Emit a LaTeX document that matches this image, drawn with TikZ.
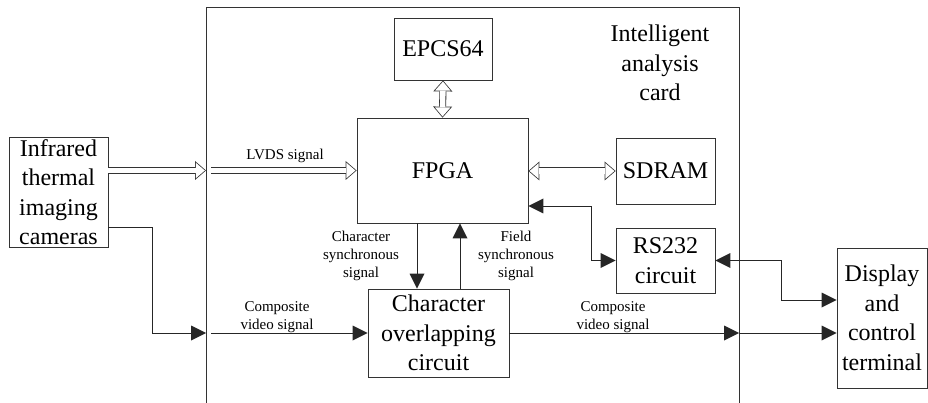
\documentclass[tikz,border=0pt]{standalone}
\usepackage{fontspec}
\setmainfont{Liberation Serif}
\usetikzlibrary{arrows.meta,calc}
\def\bigtext{\fontsize{24}{29.5}\selectfont}
\def\smalltext{\fontsize{15}{18}\selectfont}
\def\blocknode{\node[block]}
\def\drawsig{\draw[sig]}
\def\drawbus{\draw[bus]}

\begin{document}
\begin{tikzpicture}[x=1pt,y=-1pt,
  block/.style={draw=black!80,line width=0.8pt,fill=white,align=center,font=\bigtext,inner sep=0pt},
  lbl/.style={align=center,font=\smalltext,inner sep=0pt},
  sig/.style={draw=black!85,line width=0.8pt,-{Triangle[line width=0pt,length=15pt,width=15pt]}},
  sigboth/.style={draw=black!85,line width=0.8pt,{Triangle[line width=0pt,length=15pt,width=15pt]}-{Triangle[line width=0pt,length=15pt,width=15pt]}},
  bus/.style={draw=black!80,line width=7pt,-{Triangle[line width=0pt,length=11pt,width=19pt]},
    postaction={draw=white,line width=5.4pt,-{Triangle[line width=0pt,length=9pt,width=15.5pt]},shorten >=1.2pt}},
  busboth/.style={draw=black!80,line width=7pt,{Triangle[line width=0pt,length=11pt,width=19pt]}-{Triangle[line width=0pt,length=11pt,width=19pt]},
    postaction={draw=white,line width=5.4pt,{Triangle[line width=0pt,length=9pt,width=15.5pt]}-{Triangle[line width=0pt,length=9pt,width=15.5pt]},shorten >=1.2pt,shorten <=1.2pt}}]
\useasboundingbox (0,0) rectangle (928,403);

% the card, open at the bottom
\coordinate (card_bl) at (206,403);
\coordinate (card_tl) at (206,7);
\coordinate (card_tr) at (739,7);
\coordinate (card_br) at (739,403);
\draw[draw=black!80,line width=0.8pt] (card_bl) -- (card_tl) -- (card_tr) -- (card_br);
\node[lbl,font=\bigtext] (cardname) at (660,63) {Intelligent\\analysis\\card};

% blocks
\blocknode[minimum width=99pt,minimum height=110pt] (infra) at (58.5,192) {Infrared\\thermal\\imaging\\cameras};
\blocknode[minimum width=171pt,minimum height=105pt] (fpga) at (442.5,170.5) {FPGA};
\blocknode[minimum width=98pt,minimum height=62pt] (epcs) at (443,49) {EPCS64};
\blocknode[minimum width=99pt,minimum height=66pt] (sdram) at (665.5,171) {SDRAM};
\blocknode[minimum width=99pt,minimum height=65pt] (rs) at (665.5,260.5) {RS232\\circuit};
\blocknode[minimum width=141pt,minimum height=88pt] (chr) at (438.5,333) {Character\\overlapping\\circuit};
\blocknode[minimum width=90pt,minimum height=140pt] (disp) at (882,318) {Display\\and\\control\\terminal};

% LVDS bus into the card and on to the FPGA
\coordinate (lvds_in) at (206,170.5);
\coordinate (lvds_out) at (211,170.5);
\drawbus (infra.east |- lvds_in) -- (lvds_in);
\drawbus (lvds_out) -- (fpga.west);
\node[lbl] (lvdslbl) at (285,156) {LVDS signal};
\draw[busboth] (epcs.south) -- (fpga.north);
\draw[busboth] (fpga.east |- sdram.west) -- (sdram.west);

% composite video path
\coordinate (cam_out) at (108,227);
\coordinate (cam_bend) at (152,333);
\coordinate (cv_in) at (206,333);
\coordinate (cv_out) at (211,333);
\coordinate (cv_card) at (739,333);
\drawsig (cam_out) -| (cam_bend) -- (cv_in);
\drawsig (cv_out) -- (chr.west);
\drawsig (chr.east) -- (cv_card);
\drawsig (cv_card) -- (disp.west |- cv_card);
\node[lbl] (cvlbl_l) at (277,317) {Composite\\video signal};
\node[lbl] (cvlbl_r) at (613,317) {Composite\\video signal};

% sync signals
\drawsig ([xshift=-25.5pt]fpga.south) -- ([xshift=-25.5pt]fpga.south |- chr.north);
\drawsig ([xshift=17.5pt]fpga.south |- chr.north) -- ([xshift=17.5pt]fpga.south);
\node[lbl] (csynclbl) at (361,256) {Character\\synchronous\\signal};
\node[lbl] (fsynclbl) at (516,256) {Field\\synchronous\\signal};

% serial link
\coordinate (rs_bend) at (591,260.5);
\coordinate (term_bend) at (781,300);
\draw[sigboth] ([yshift=-35.5pt]fpga.east) -| (rs_bend) -- (rs.west);
\draw[sigboth] (rs.east) -| (term_bend) -- (disp.west |- term_bend);
\end{tikzpicture}
\end{document}
